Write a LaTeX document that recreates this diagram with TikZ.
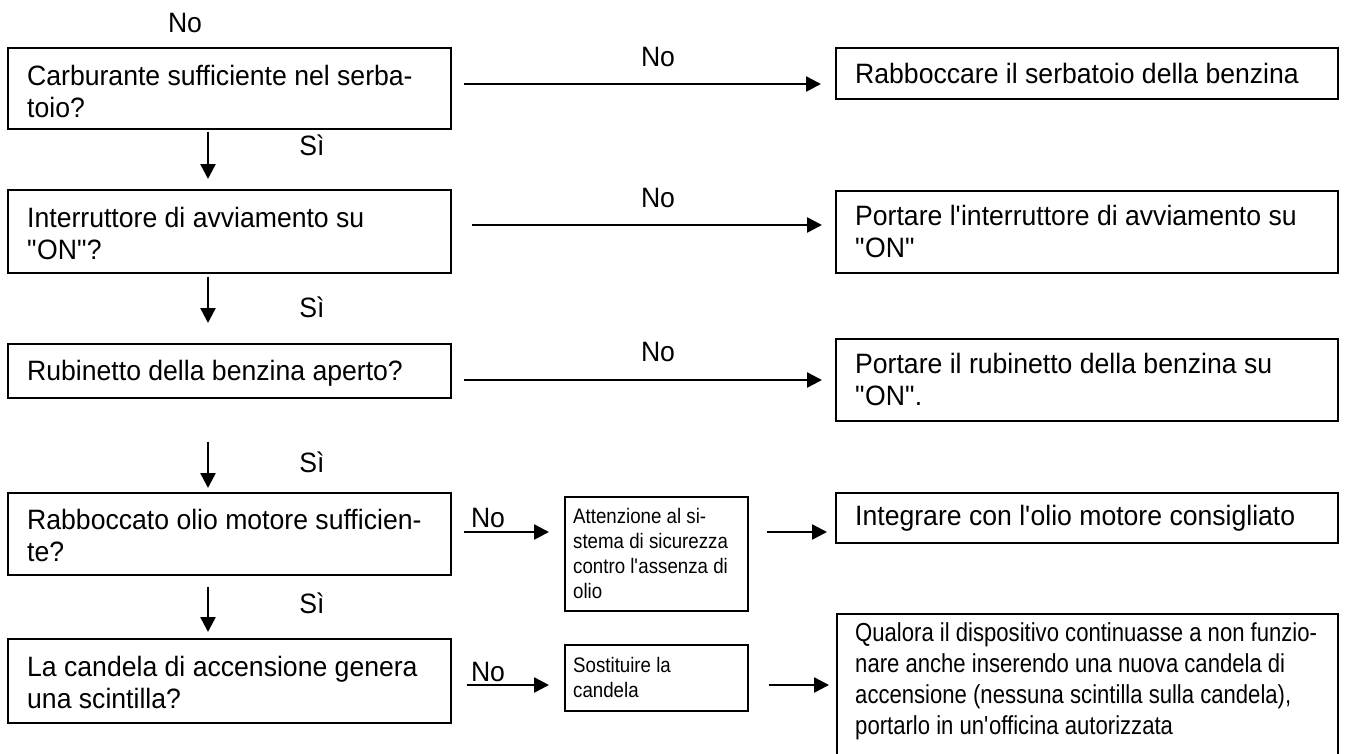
\documentclass[tikz,border=0pt]{standalone}
\usepackage{fontspec}
\setmainfont{Liberation Sans}[FakeStretch=0.95]
\newfontfamily\smallfam{Liberation Sans}[FakeStretch=0.89]
\newfontfamily\narrowfam{Liberation Sans}[FakeStretch=0.85]
\usetikzlibrary{arrows.meta}
\newcommand\ap{\textquotesingle}
\newcommand\qd{\textquotedbl}
\begin{document}
\begin{tikzpicture}[x=1pt,y=-1pt,
  box/.style={draw, line width=1.6pt, rectangle, inner sep=0pt, anchor=north west},
  txt/.style={font=\fontsize{28}{32}\selectfont, align=left, inner sep=0pt, anchor=west},
  smtxt/.style={font=\smallfam\fontsize{21}{25}\selectfont, align=left, inner sep=0pt, anchor=west},
  nartxt/.style={font=\narrowfam\fontsize{26}{31}\selectfont, align=left, inner sep=0pt, anchor=north west},
  lbl/.style={font=\fontsize{28}{31}\selectfont, inner sep=0pt},
  arr/.style={-{Triangle[length=15pt,width=15pt]}, line width=2.5pt}]
\useasboundingbox (0,0) rectangle (1348,753);
% left column
\node[box, minimum width=443pt, minimum height=81pt] (L1) at (7,47) {};
\node[box, minimum width=443pt, minimum height=83pt] (L2) at (7,189) {};
\node[box, minimum width=443pt, minimum height=54pt] (L3) at (7,343) {};
\node[box, minimum width=443pt, minimum height=82pt] (L4) at (7,492) {};
\node[box, minimum width=443pt, minimum height=84pt] (L5) at (7,638) {};
\node[txt] (tL1) at ([xshift=20pt,yshift=-3pt]L1.west) {Carburante sufficiente nel serba-\\toio?};
\node[txt] (tL2) at ([xshift=20pt,yshift=-2pt]L2.west) {Interruttore di avviamento su\\\qd ON\qd ?};
\node[txt] (tL3) at ([xshift=20pt,yshift=-2pt]L3.west) {Rubinetto della benzina aperto?};
\node[txt] (tL4) at ([xshift=20pt,yshift=-2pt]L4.west) {Rabboccato olio motore sufficien-\\te?};
\node[txt] (tL5) at ([xshift=20pt,yshift=-2pt]L5.west) {La candela di accensione genera\\una scintilla?};
% right column
\node[box, minimum width=502pt, minimum height=51pt] (R1) at (835,47) {};
\node[box, minimum width=502pt, minimum height=82pt] (R2) at (835,190) {};
\node[box, minimum width=502pt, minimum height=82pt] (R3) at (835,338) {};
\node[box, minimum width=502pt, minimum height=50pt] (R4) at (835,492) {};
\node[box, minimum width=501pt, minimum height=160pt] (R5) at (836,613) {};
\node[txt] (tR1) at ([xshift=20pt]R1.west) {Rabboccare il serbatoio della benzina};
\node[txt] (tR2) at ([xshift=20pt]R2.west) {Portare l\ap interruttore di avviamento su\\\qd ON\qd};
\node[txt] (tR3) at ([xshift=20pt]R3.west) {Portare il rubinetto della benzina su\\\qd ON\qd .};
\node[txt] (tR4) at ([xshift=20pt]R4.west) {Integrare con l\ap olio motore consigliato};
\node[nartxt] (tR5) at ([xshift=19pt,yshift=-9pt]R5.north west) {Qualora il dispositivo continuasse a non funzio-\\nare anche inserendo una nuova candela di\\accensione (nessuna scintilla sulla candela),\\portarlo in un\ap officina autorizzata};
% small boxes
\node[box, minimum width=183pt, minimum height=114pt] (A) at (564,496) {};
\node[box, minimum width=183pt, minimum height=66pt] (B) at (564,644) {};
\node[smtxt] (tA) at ([xshift=9pt]A.west) {Attenzione al si-\\stema di sicurezza\\contro l\ap assenza di\\olio};
\node[smtxt] (tB) at ([xshift=9pt]B.west) {Sostituire la\\candela};
% labels
\node[lbl] (n0) at (185,23) {No};
\node[lbl] (n1) at (658,57) {No};
\node[lbl] (n2) at (658,198) {No};
\node[lbl] (n3) at (658,352) {No};
\node[lbl, anchor=south] (n4) at (488,528) {No};
\node[lbl, anchor=south] (n5) at (488,682) {No};
\node[lbl] (s1) at (312,145) {Sì};
\node[lbl] (s2) at (312,307) {Sì};
\node[lbl] (s3) at (312,462) {Sì};
\node[lbl] (s4) at (312,603) {Sì};
% horizontal arrows
\draw[arr] ([xshift=12pt]L1.east |- 0,84) -- ([xshift=-14pt]R1.west |- 0,84);
\draw[arr] ([xshift=20pt]L2.east |- 0,225) -- ([xshift=-13pt]R2.west |- 0,225);
\draw[arr] ([xshift=12pt]L3.east |- 0,380) -- ([xshift=-13pt]R3.west |- 0,380);
\draw[arr] ([xshift=12pt]L4.east |- 0,532) -- ([xshift=-15pt]A.west |- 0,532);
\draw[arr] ([xshift=18pt]A.east |- 0,532) -- ([xshift=-8pt]R4.west |- 0,532);
\draw[arr] ([xshift=15pt]L5.east |- 0,685) -- ([xshift=-15pt]B.west |- 0,685);
\draw[arr] ([xshift=20pt]B.east |- 0,685) -- ([xshift=-7pt]R5.west |- 0,685);
% vertical arrows
\draw[arr] ([yshift=-2pt]L1.south -| 208,0) -- ([yshift=10pt]L2.north -| 208,0);
\draw[arr] ([yshift=-3pt]L2.south -| 208,0) -- ([yshift=20pt]L3.north -| 208,0);
\draw[arr] ([yshift=-43pt]L3.south -| 208,0) -- ([yshift=4pt]L4.north -| 208,0);
\draw[arr] ([yshift=-11pt]L4.south -| 208,0) -- ([yshift=6pt]L5.north -| 208,0);
\end{tikzpicture}
\end{document}
